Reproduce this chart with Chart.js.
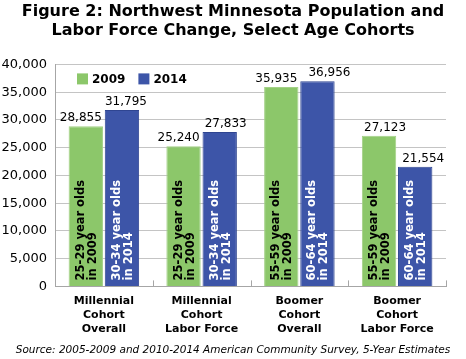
<!DOCTYPE html>
<html>
<head>
<meta charset="utf-8">
<script src="https://cdn.jsdelivr.net/npm/chart.js@4.4.1/dist/chart.umd.min.js"></script>
<style>
  html, body { margin: 0; padding: 0; background: #fff; }
</style>
</head>
<body>
<canvas id="myChart" width="466" height="359"></canvas>
<script>
// Categorias (eje x)
const cohorts = [
  ['Millennial', 'Cohort', 'Overall'],
  ['Millennial', 'Cohort', 'Labor Force'],
  ['Boomer', 'Cohort', 'Overall'],
  ['Boomer', 'Cohort', 'Labor Force']
];

// Valores por serie
const years = ['2009', '2014'];
const values2009 = [28855, 25240, 35935, 27123];
const values2014 = [31795, 27833, 36956, 21554];

// Textos dentro de las barras
const ageLabels2009 = [
  ['25-29 year olds', 'in 2009'],
  ['25-29 year olds', 'in 2009'],
  ['55-59 year olds', 'in 2009'],
  ['55-59 year olds', 'in 2009']
];
const ageLabels2014 = [
  ['30-34 year olds', 'in 2014'],
  ['30-34 year olds', 'in 2014'],
  ['60-64 year olds', 'in 2014'],
  ['60-64 year olds', 'in 2014']
];

// Eje y
const yMin = 0;
const yMax = 40000;
const yStep = 5000;

const FONT = "'DejaVu Sans', Verdana, sans-serif";
const GREEN = '#8cc76a';
const BLUE = '#3d55a8';

// desplazamiento horizontal de las etiquetas de valor (como en el original)
const valueShift = [[-5, -5, -5, 6], [4, 6, 12, 8]];

const barLabels = {
  id: 'barLabels',
  afterDatasetsDraw(chart) {
    const ctx = chart.ctx;
    const base = chart.scales.y.getPixelForValue(0);
    const inner = [ageLabels2009, ageLabels2014];
    const inkColor = ['#000', '#fff'];
    chart.data.datasets.forEach((ds, di) => {
      const meta = chart.getDatasetMeta(di);
      meta.data.forEach((bar, i) => {
        // valor encima de la barra
        ctx.save();
        ctx.font = '12px ' + FONT;
        ctx.fillStyle = '#000';
        ctx.textAlign = 'center';
        ctx.textBaseline = 'bottom';
        ctx.fillText(ds.data[i].toLocaleString('en-US'), bar.x + valueShift[di][i], bar.y - 2);
        ctx.restore();

        // texto vertical dentro de la barra
        ctx.save();
        ctx.font = 'bold 11.5px ' + FONT;
        ctx.fillStyle = inkColor[di];
        ctx.translate(bar.x, base - 6);
        ctx.rotate(-Math.PI / 2);
        ctx.textAlign = 'left';
        ctx.textBaseline = 'middle';
        const lines = inner[di][i];
        lines.forEach((ln, k) => {
          ctx.fillText(ln, 0, (k - (lines.length - 1) / 2) * 12 + 1);
        });
        ctx.restore();
      });
    });

    // marcas entre categorias
    const xs = chart.scales.x;
    const n = chart.data.labels.length;
    ctx.save();
    ctx.strokeStyle = '#a6a6a6';
    ctx.lineWidth = 1;
    for (let i = 0; i <= n; i++) {
      const x = Math.round(xs.left + i * xs.width / n) + 0.5;
      ctx.beginPath();
      ctx.moveTo(x, base);
      ctx.lineTo(x, base - 6);
      ctx.stroke();
    }
    ctx.restore();
  }
};

// leyenda dentro del area del grafico
const insideLegend = {
  id: 'insideLegend',
  afterDraw(chart) {
    const ctx = chart.ctx;
    const area = chart.chartArea;
    let x = area.left + 22;
    const y = area.top + 9;
    ctx.save();
    ctx.font = 'bold 12px ' + FONT;
    ctx.textBaseline = 'middle';
    ctx.textAlign = 'left';
    chart.data.datasets.forEach((ds) => {
      ctx.fillStyle = ds.backgroundColor;
      ctx.fillRect(x, y, 11, 11);
      ctx.fillStyle = '#000';
      ctx.fillText(ds.label, x + 15, y + 6);
      x += 15 + ctx.measureText(ds.label).width + 13;
    });
    ctx.restore();
  }
};

const ctx = document.getElementById('myChart').getContext('2d');

const myChart = new Chart(ctx, {
  type: 'bar',
  data: {
    labels: cohorts,
    datasets: [
      {
        label: years[0],
        data: values2009,
        backgroundColor: GREEN,
        borderColor: '#a3d186',
        borderWidth: 1,
        categoryPercentage: 0.74,
        barPercentage: 0.95
      },
      {
        label: years[1],
        data: values2014,
        backgroundColor: BLUE,
        borderColor: '#2f4591',
        borderWidth: 1,
        categoryPercentage: 0.74,
        barPercentage: 0.95
      }
    ]
  },
  options: {
    responsive: false,
    devicePixelRatio: 1,
    animation: false,
    layout: { padding: 0 },
    plugins: {
      legend: { display: false },
      tooltip: { enabled: false },
      title: {
        display: true,
        text: ['Figure 2: Northwest Minnesota Population and', 'Labor Force Change, Select Age Cohorts'],
        color: '#000',
        font: { family: FONT, size: 16, weight: 'bold', lineHeight: 1.2 },
        padding: { top: 2, bottom: 24 }
      },
      subtitle: {
        display: true,
        position: 'bottom',
        text: 'Source: 2005-2009 and 2010-2014 American Community Survey, 5-Year Estimates',
        color: '#000',
        font: { family: FONT, size: 10.5, style: 'italic', lineHeight: 1.2 },
        padding: { top: 8, bottom: 2 }
      }
    },
    scales: {
      x: {
        afterFit(scale) { scale.height = 50; },
        grid: { display: true, drawOnChartArea: false, drawTicks: false },
        border: { display: true, color: '#a6a6a6' },
        ticks: {
          color: '#000',
          padding: 8,
          maxRotation: 0,
          autoSkip: false,
          font: { family: FONT, size: 11, weight: 'bold', lineHeight: 1.27 }
        }
      },
      y: {
        min: yMin,
        max: yMax,
        afterFit(scale) { scale.width = 55; },
        grid: { color: '#c4c4c4', drawTicks: false },
        border: { display: true, color: '#a6a6a6' },
        ticks: {
          stepSize: yStep,
          padding: 8,
          color: '#000',
          font: { family: FONT, size: 13 },
          callback: (v) => v.toLocaleString('en-US')
        }
      },
      // eje vacio a la derecha, solo reserva el margen
      yRight: {
        position: 'right',
        afterFit(scale) { scale.width = 20; },
        grid: { display: false },
        border: { display: false },
        ticks: { display: false }
      }
    }
  },
  plugins: [barLabels, insideLegend]
});
</script>
</body>
</html>
